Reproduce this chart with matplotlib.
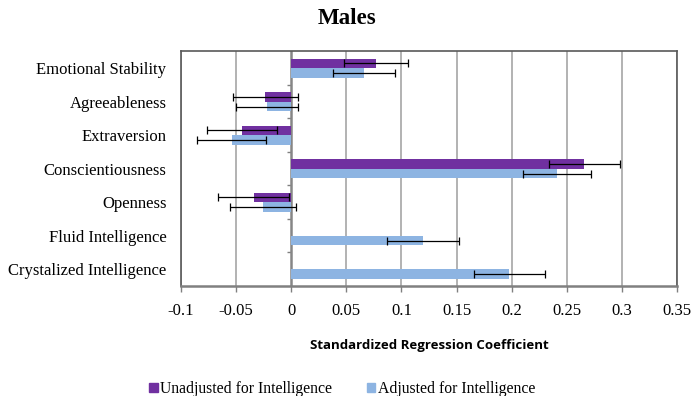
import numpy as np
import matplotlib
matplotlib.use("Agg")
import matplotlib.pyplot as plt
from matplotlib.patches import Patch

categories = ["Emotional Stability", "Agreeableness", "Extraversion", "Conscientiousness",
              "Openness", "Fluid Intelligence", "Crystalized Intelligence"]
unadjusted = [0.077, -0.0235, -0.0445, 0.266, -0.034, np.nan, np.nan]
unadjusted_err = [0.029, 0.0295, 0.032, 0.032, 0.032, np.nan, np.nan]
adjusted = [0.066, -0.022, -0.054, 0.241, -0.026, 0.1195, 0.198]
adjusted_err = [0.028, 0.028, 0.0315, 0.031, 0.030, 0.033, 0.032]
xticks = [-0.1, -0.05, 0, 0.05, 0.1, 0.15, 0.2, 0.25, 0.3, 0.35]
xtick_labels = ["-0.1", "-0.05", "0", "0.05", "0.1", "0.15", "0.2", "0.25", "0.3", "0.35"]

serif = "Liberation Serif"
purple = "#7030A0"
blue = "#8DB4E2"

fig = plt.figure(figsize=(6.93, 3.96), dpi=100)
ax = fig.add_axes([0.2612, 0.2778, 0.7157, 0.5922])

y = np.arange(len(categories))
h = 0.285
ax.barh(y - h / 2, unadjusted, height=h, color=purple, zorder=3)
ax.barh(y + h / 2, adjusted, height=h, color=blue, zorder=3)
ax.errorbar(unadjusted, y - h / 2, xerr=unadjusted_err, fmt="none", ecolor="black",
            elinewidth=0.9, capsize=3, capthick=0.9, zorder=4)
ax.errorbar(adjusted, y + h / 2, xerr=adjusted_err, fmt="none", ecolor="black",
            elinewidth=0.9, capsize=3, capthick=0.9, zorder=4)

ax.set_xlim(-0.1, 0.35)
ax.set_ylim(len(categories) - 0.5, -0.5)
ax.set_xticks(xticks)
ax.set_xticklabels(xtick_labels, fontfamily=serif, fontsize=12)
ax.set_yticks(y)
ax.set_yticklabels(categories, fontfamily=serif, fontsize=12)
ax.tick_params(axis="y", length=0, pad=10.5)
ax.tick_params(axis="x", length=4, width=1, color="#808080", pad=8)

for xv in xticks:
    if xv == 0:
        ax.axvline(xv, color="#868686", lw=1.8, zorder=2)
    else:
        ax.axvline(xv, color="#A6A6A6", lw=1.2, zorder=1)

for s in ax.spines.values():
    s.set_color("#595959")
    s.set_linewidth(1.2)
ax.spines["bottom"].set_color("#808080")
ax.spines["bottom"].set_linewidth(1.8)

sec = ax.secondary_yaxis(0.1 / 0.45)
sec.spines["left"].set_visible(False)
sec.set_yticks(np.arange(len(categories) - 1) + 0.5)
sec.set_yticklabels([])
sec.tick_params(axis="y", length=3, color="#808080", width=1)

fig.text(0.5 + 0.0, 1 - 19 / 396, "Males", ha="center", va="center",
         fontfamily=serif, fontsize=16.5, fontweight="bold")
ax.set_xlabel("Standardized Regression Coefficient", fontfamily="Open Sans",
              fontsize=9.5, fontweight="bold", labelpad=15)

handles = [Patch(color=purple), Patch(color=blue)]
fig.legend(handles, ["Unadjusted for Intelligence", "Adjusted for Intelligence"],
           loc="center", bbox_to_anchor=(342 / 693, 1 - 389 / 396), ncol=2, frameon=False,
           prop={"family": serif, "size": 11.3}, handlelength=0.55, handleheight=0.55,
           handletextpad=0.15, columnspacing=2.2, borderpad=0, borderaxespad=0)

fig.savefig("out.png", dpi=100)
